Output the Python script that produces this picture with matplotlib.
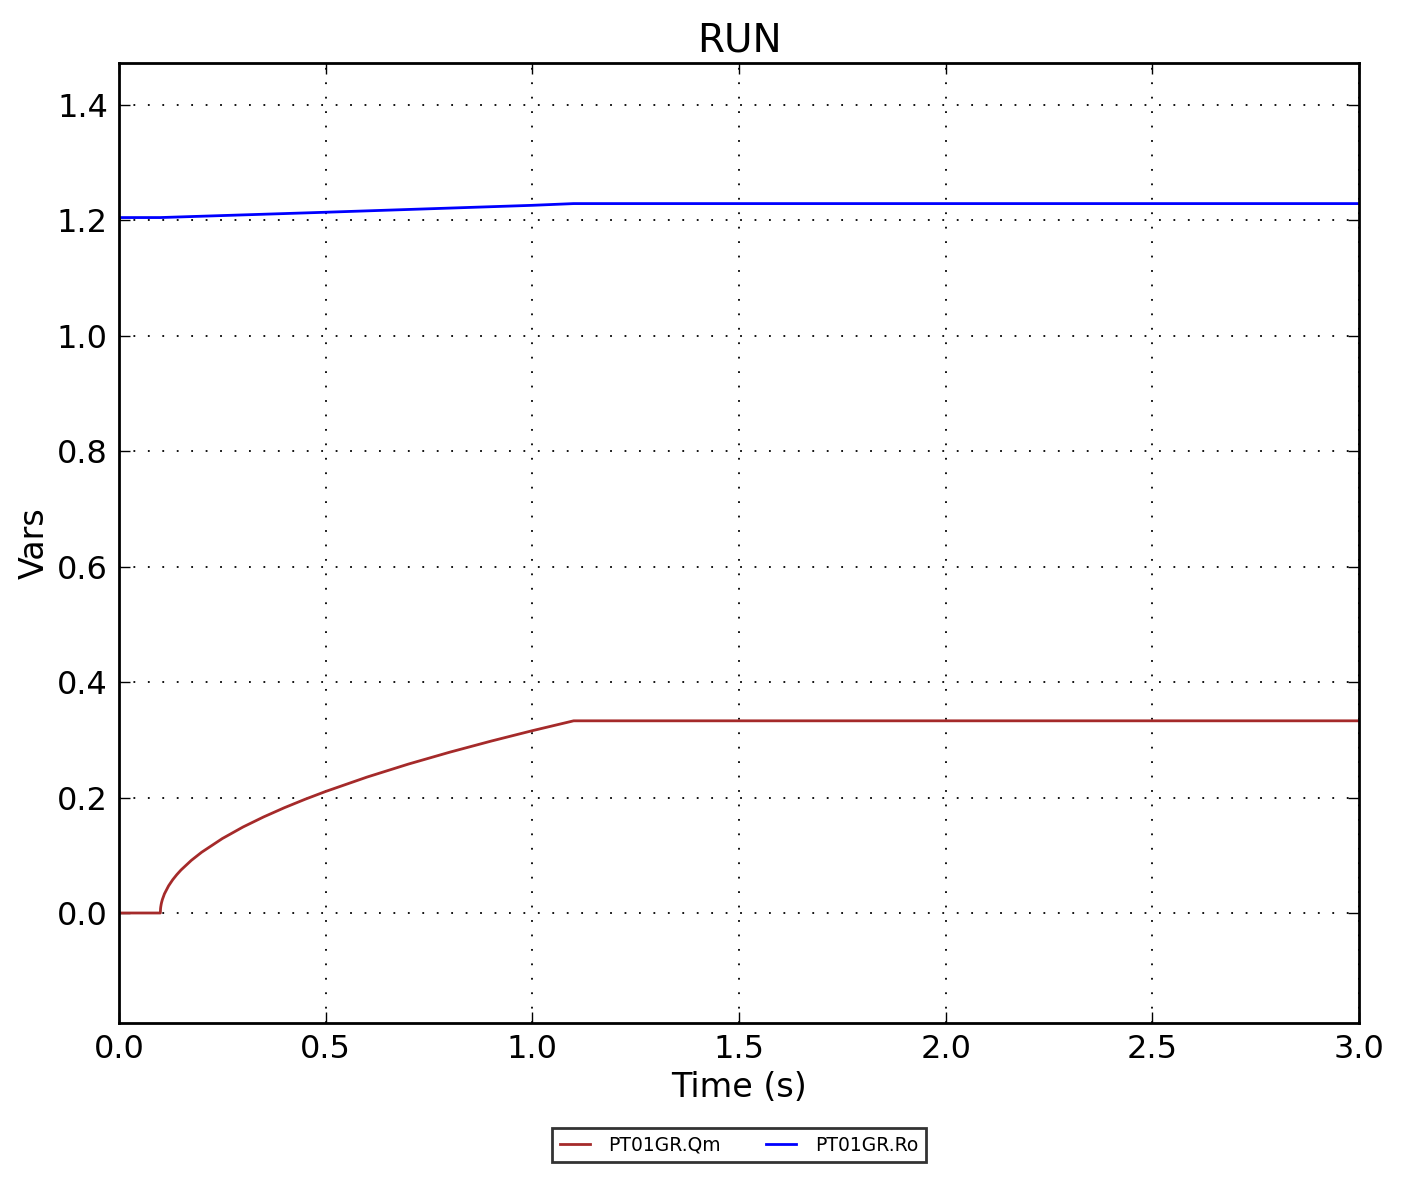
import matplotlib
matplotlib.use("Agg")
import matplotlib.pyplot as plt

time_s = [0.0, 0.1, 0.1005, 0.101, 0.102, 0.103, 0.105, 0.11, 0.12, 0.13, 0.14, 0.15, 0.175,
          0.2, 0.25, 0.3, 0.35, 0.4, 0.45, 0.5, 0.6, 0.7, 0.8, 0.9, 1.0, 1.1, 3.0]
qm = [0.0, 0.0, 0.0074, 0.0105, 0.0149, 0.0182, 0.0235, 0.0333, 0.0471, 0.0577, 0.0666, 0.0745,
      0.0912, 0.1053, 0.129, 0.149, 0.1665, 0.1824, 0.197, 0.2106, 0.2355, 0.258, 0.2786,
      0.2978, 0.3159, 0.333, 0.333]
ro = [1.205, 1.205, 1.20501, 1.20502, 1.20505, 1.20507, 1.20512, 1.20523, 1.20546, 1.20569,
      1.20592, 1.20615, 1.20673, 1.2073, 1.20845, 1.2096, 1.21075, 1.2119, 1.21305, 1.2142,
      1.2166, 1.219, 1.2214, 1.2238, 1.2262, 1.2292, 1.2292]
labels = ["PT01GR.Qm", "PT01GR.Ro"]
xticks = [0.0, 0.5, 1.0, 1.5, 2.0, 2.5, 3.0]
yticks = [0.0, 0.2, 0.4, 0.6, 0.8, 1.0, 1.2, 1.4]

fig = plt.figure(figsize=(14.03, 11.82), dpi=100)
ax = fig.add_axes([119/1403, 1 - 1023/1182, (1359-119)/1403, (1023-63)/1182])

ax.plot(time_s, qm, color="#A52A2A", lw=2, label=labels[0])
ax.plot(time_s, ro, color="#0000FF", lw=2, label=labels[1])

ax.set_xlim(0, 3.0)
ax.set_ylim(-0.1906, 1.4728)
ax.set_xticks(xticks)
ax.set_yticks(yticks)
ax.set_xticklabels([f"{v:.1f}" for v in xticks])
ax.set_yticklabels([f"{v:.1f}" for v in yticks])
ax.tick_params(direction="in", length=8, width=1, labelsize=23, top=True, right=True, pad=8)
for s in ax.spines.values():
    s.set_linewidth(2)
ax.grid(True, color="black", linestyle=(0, (1, 7)), linewidth=1.3)

ax.set_title("RUN", fontsize=28, pad=8)
ax.set_xlabel("Time (s)", fontsize=24, labelpad=4)
ax.set_ylabel("Vars", fontsize=24, labelpad=4)

leg = ax.legend(loc="upper center", bbox_to_anchor=(0.5, -0.1), ncol=2, fontsize=13.5,
                frameon=True, fancybox=False, edgecolor="black", handlelength=1.6,
                handletextpad=1.0, columnspacing=2.4, borderpad=0.4)
leg.get_frame().set_linewidth(2)

fig.savefig("out.png", dpi=100)
